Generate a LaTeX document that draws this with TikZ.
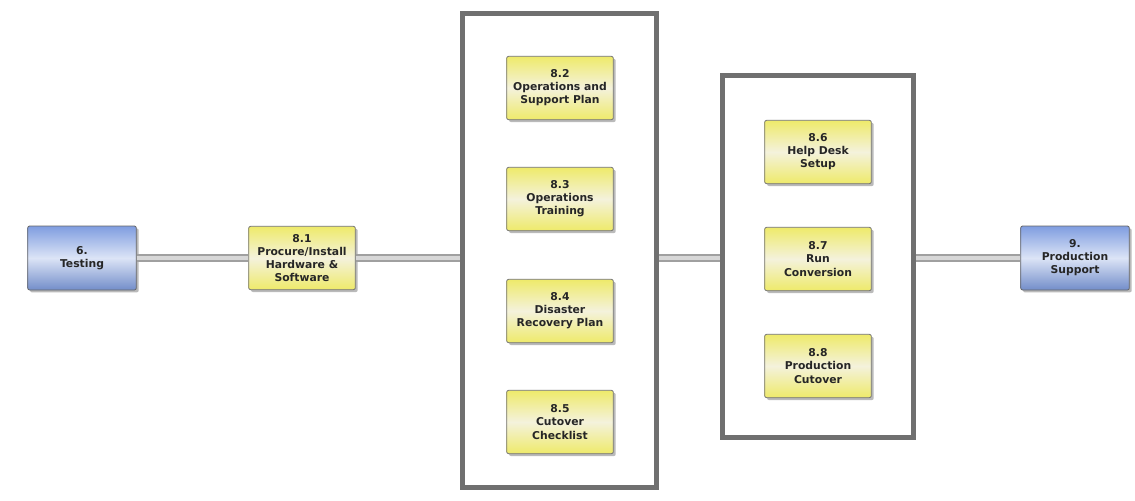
\documentclass[tikz,border=0pt]{standalone}
\usepackage{fontspec}
\setmainfont{DejaVu Sans}
\usetikzlibrary{shadows}
\definecolor{linkgray}{HTML}{BDBDBD}
\definecolor{linkedge}{HTML}{A0A0A0}
\definecolor{framegray}{HTML}{707070}
\definecolor{taskyellow}{HTML}{EEEA6A}
\definecolor{taskpale}{HTML}{F4F2DC}
\definecolor{phaseblue}{HTML}{7F9DE0}
\definecolor{phasepale}{HTML}{DCE4F6}
\begin{document}
\begin{tikzpicture}[x=0.75pt,y=-0.75pt,
  boxtext/.style={font=\bfseries\fontsize{8.1}{9.8}\selectfont, align=center, text=black!85},
  taskbox/.style={boxtext, rectangle, rounded corners=1.5pt, draw=black!55, line width=0.6pt,
    minimum width=80pt, minimum height=47.5pt, inner sep=1pt,
    top color=taskyellow, bottom color=taskyellow, middle color=taskpale,
    drop shadow={shadow xshift=1.8pt, shadow yshift=-1.8pt, opacity=0.45, fill=black!60}},
  phasebox/.style={boxtext, rectangle, rounded corners=1.5pt, draw=black!60, line width=0.6pt,
    minimum width=81.5pt, minimum height=48pt, inner sep=1pt,
    top color=phaseblue, bottom color=phaseblue!90!black, middle color=phasepale,
    drop shadow={shadow xshift=1.8pt, shadow yshift=-1.8pt, opacity=0.45, fill=black!60}},
  frame/.style={rectangle, draw=framegray, line width=2.4pt, fill=white, inner sep=0pt,
    drop shadow={shadow xshift=2pt, shadow yshift=-2pt, opacity=0.35, fill=black!50}},
  linkbase/.style={draw=linkedge, line width=6pt},
  linktop/.style={draw=linkgray!60, line width=2.5pt}
]
\useasboundingbox (0,0) rectangle (1135,500);
\fill[white] (0,0) rectangle (1135,500);

% group frames
\node[frame, minimum width=144pt, minimum height=354pt] (g1) at (559.5,250.5) {};
\node[frame, minimum width=141.5pt, minimum height=270pt] (g2) at (818,256.5) {};

% phases and single task
\node[phasebox] (p6) at (82,258) {6.\\Testing};
\node[taskbox] (t81) at (302,258) {8.1\\Procure/Install\\Hardware \&\\Software};
\node[phasebox] (p9) at (1075,258) {9.\\Production\\Support};

% horizontal connectors at the level of the main line
\foreach \a/\b in {p6/t81, t81/g1, g1/g2, g2/p9}{
  \draw[linkbase] (\a.east |- t81.east) -- (\b.west |- t81.west);
  \draw[linktop] (\a.east |- t81.east) -- (\b.west |- t81.west);
}

% redraw frame borders over connector ends
\draw[framegray, line width=2.4pt] (g1.north west) rectangle (g1.south east);
\draw[framegray, line width=2.4pt] (g2.north west) rectangle (g2.south east);

% tasks in the first frame
\node[taskbox] (t82) at (560,88) {8.2\\Operations and\\Support Plan};
\node[taskbox] (t83) at (560,199) {8.3\\Operations\\Training};
\node[taskbox] (t84) at (560,311) {8.4\\Disaster\\Recovery Plan};
\node[taskbox] (t85) at (560,422) {8.5\\Cutover\\Checklist};

% tasks in the second frame
\node[taskbox] (t86) at (818,152) {8.6\\Help Desk\\Setup};
\node[taskbox] (t87) at (818,259) {8.7\\Run\\Conversion};
\node[taskbox] (t88) at (818,366) {8.8\\Production\\Cutover};
\end{tikzpicture}
\end{document}
